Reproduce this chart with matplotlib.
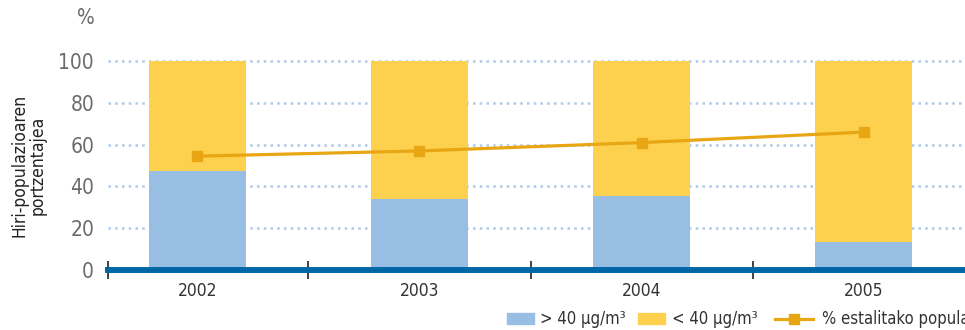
import numpy as np
import matplotlib
matplotlib.use("Agg")
import matplotlib.pyplot as plt
from matplotlib.patches import Rectangle
from matplotlib.lines import Line2D

plt.rcParams['font.family'] = ['DejaVu Sans']
plt.rcParams['font.stretch'] = 'condensed'

# datuak
urteak = ['2002', '2003', '2004', '2005']
gainetik = [47.5, 34, 35.5, 13.5]      # > 40 ug/m3
azpitik = [100 - v for v in gainetik]  # < 40 ug/m3
estalitako = [54.5, 57, 61, 66]        # % estalitako populazioa

c_blue = '#99bee3'
c_yellow = '#fdd14d'
c_line = '#e8a614'
c_axis = '#0067a6'

W, H = 965, 330
fig = plt.figure(figsize=(W/100, H/100), dpi=100)
ax = fig.add_axes([108/W, 60/H, 1 - 108/W, (270 - 58)/H])

x = np.arange(len(urteak))
ax.set_xlim(-0.403, 3.457)
ax.set_ylim(0, 101.5)

for v in [20, 40, 60, 80, 100]:
    ax.axhline(v, color='#adc9ea', lw=1.8, ls=(0, (1.0, 1.7)), zorder=0)

ax.bar(x, gainetik, width=0.437, color=c_blue, zorder=2)
ax.bar(x, azpitik, width=0.437, bottom=gainetik, color=c_yellow, zorder=2)
ax.plot(x, estalitako, color=c_line, lw=2.3, marker='s', ms=7.5, zorder=3)

for s in ['left', 'right', 'top']:
    ax.spines[s].set_visible(False)
ax.spines['bottom'].set_color(c_axis)
ax.spines['bottom'].set_linewidth(4.3)
ax.spines['bottom'].set_zorder(4)

ax.set_yticks([0, 20, 40, 60, 80, 100])
ax.tick_params(axis='y', length=0, pad=10, labelsize=15, labelcolor='#6b6b6b')
ax.set_xticks(x)
ax.set_xticklabels(urteak)
ax.tick_params(axis='x', which='major', length=0, pad=9, labelsize=12.5, labelcolor='#333333')
ax.set_xticks([-0.403, 0.5, 1.5, 2.5], minor=True)
ax.tick_params(axis='x', which='minor', direction='inout', length=13, width=1.3, color='#333333')

fig.text(29/W, 1 - 165/H, 'Hiri-populazioaren\nportzentajea', rotation=90, fontsize=12.5,
         color='#222222', ha='center', va='center', linespacing=1.0)
fig.text(86/W, 1 - 18/H, '%', fontsize=15, color='#6b6b6b', ha='center', va='center')

# legenda
ly = 1 - 318.5/H
fig.patches.append(Rectangle((507/W, 1 - 324/H), 27/W, 11/H, color=c_blue, transform=fig.transFigure))
fig.text(540/W, ly, '> 40 µg/m³', fontsize=12, color='#333333', va='center')
fig.patches.append(Rectangle((638/W, 1 - 324/H), 27/W, 11/H, color=c_yellow, transform=fig.transFigure))
fig.text(672/W, ly, '< 40 µg/m³', fontsize=12, color='#333333', va='center')
fig.lines.append(Line2D([775/W, 813/W], [ly, ly], color=c_line, lw=2.3, transform=fig.transFigure))
fig.lines.append(Line2D([794/W], [ly], color=c_line, marker='s', ms=7.5, transform=fig.transFigure))
fig.text(822/W, ly, '% estalitako populazioa', fontsize=12, color='#333333', va='center')

fig.savefig('out.png', dpi=100)
